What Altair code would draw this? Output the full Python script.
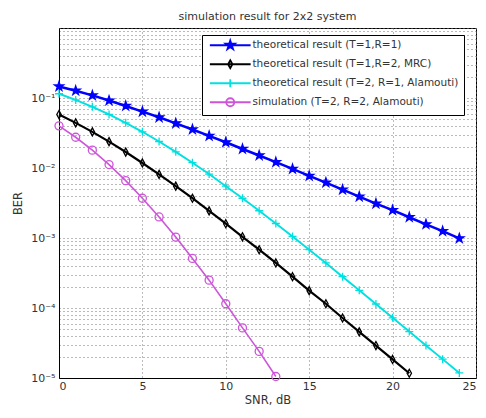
import altair as alt
import pandas as pd

# ---------------- data ----------------
names = [
    "theoretical result (T=1,R=1)",
    "theoretical result (T=1,R=2, MRC)",
    "theoretical result (T=2, R=1, Alamouti)",
    "simulation (T=2, R=2, Alamouti)",
]
snr_blue = list(range(0, 25))
ber_blue = [0.146, 0.127, 0.109, 0.092, 0.077, 0.064, 0.053, 0.0435, 0.0355, 0.0288,
            0.0233, 0.0187, 0.0151, 0.0121, 0.0097, 0.0077, 0.0062, 0.0049, 0.0039,
            0.0031, 0.0025, 0.00198, 0.00157, 0.00125, 0.00099]
snr_black = list(range(0, 22))
ber_black = [0.058, 0.0441, 0.0328, 0.0238, 0.0169, 0.0118, 0.0081, 0.0055, 0.0037,
             0.00244, 0.0016, 0.00104, 0.00068, 0.00044, 0.00028, 0.000177, 0.000115,
             0.000072, 0.0000456, 0.0000291, 0.0000184, 0.0000117]
snr_cyan = list(range(0, 25))
ber_cyan = [0.115, 0.0939, 0.0748, 0.0582, 0.0442, 0.0329, 0.0239, 0.017, 0.0119,
            0.0082, 0.0055, 0.0037, 0.00245, 0.00161, 0.00105, 0.00068, 0.00044,
            0.00028, 0.000179, 0.000114, 0.0000725, 0.0000461, 0.0000292, 0.0000186,
            0.0000118]
snr_sim = list(range(0, 14))
ber_sim = [0.040, 0.0275, 0.018, 0.0112, 0.0066, 0.0037, 0.002, 0.00103, 0.00051,
           0.00025, 0.000115, 0.000052, 0.000024, 0.0000105]

x_ticks = [0, 5, 10, 15, 20, 25]
decades = [1e-5, 1e-4, 1e-3, 1e-2, 1e-1, 1]
y_ticks = decades + [m * d for d in decades[:-1] for m in range(2, 10)]

colors = ["#0000ff", "#000000", "#00e0e0", "#cc55d8"]
fills = ["#0000ff", "transparent", "transparent", "transparent"]
widths = [2.5, 1.6, 1.6, 1.1]

# ---------------- marker paths ----------------
star = ("M0,-1.2L0.27,-0.371L1.141,-0.371L0.436,0.142L0.706,0.971L0,0.458"
        "L-0.706,0.971L-0.436,0.142L-1.141,-0.371L-0.27,-0.371Z")
diamond = "M0,-1L0.55,0L0,1L-0.55,0Z"
plus = "M-1,0L1,0M0,-1L0,1"
circle = "M-1,0A1,1 0 1,0 1,0A1,1 0 1,0 -1,0Z"
markers = [star, diamond, plus, circle]
seg = "M-5.1,0L5.1,0"
legend_paths = [seg + m for m in markers]

frames = []
for n, xs, ys in zip(names, [snr_blue, snr_black, snr_cyan, snr_sim],
                     [ber_blue, ber_black, ber_cyan, ber_sim]):
    frames.append(pd.DataFrame({"series": n, "snr": xs, "ber": ys}))
df = pd.concat(frames, ignore_index=True)
dummy = pd.DataFrame({"series": names, "snr": [-10] * 4, "ber": [0.1] * 4})

font = "DejaVu Sans"
txt = "#333333"

label_expr = ("datum.value == 0.1 ? '10⁻¹' : datum.value == 0.01 ? '10⁻²' : "
              "datum.value == 0.001 ? '10⁻³' : datum.value == 0.0001 ? '10⁻⁴' : "
              "datum.value == 0.00001 ? '10⁻⁵' : ''")

x_enc = alt.X("snr:Q", scale=alt.Scale(domain=[0, 25], nice=False, zero=False),
              axis=alt.Axis(values=x_ticks, format="d", title="SNR, dB",
                            labelPadding=2, titlePadding=3))
y_enc = alt.Y("ber:Q", scale=alt.Scale(type="log", domain=[1e-5, 1], nice=False),
              axis=alt.Axis(values=y_ticks, labelExpr=label_expr, title="BER",
                            labelPadding=4, titlePadding=7))

stroke_enc = alt.Stroke("series:N", scale=alt.Scale(domain=names, range=colors), legend=None)
fill_enc = alt.Fill("series:N", scale=alt.Scale(domain=names, range=fills), legend=None)

lines = alt.Chart(df).mark_line().encode(
    x=x_enc, y=y_enc, stroke=stroke_enc,
    strokeWidth=alt.StrokeWidth("series:N", scale=alt.Scale(domain=names, range=widths), legend=None),
    detail="series:N",
)

points = alt.Chart(df).mark_point(size=64, strokeWidth=1.3, opacity=1).encode(
    x=x_enc, y=y_enc, stroke=stroke_enc, fill=fill_enc,
    shape=alt.Shape("series:N", scale=alt.Scale(domain=names, range=markers), legend=None),
)

legend = alt.Legend(
    title=None, orient="none", legendX=143, legendY=7,
    fillColor="white", strokeColor="black", padding=5, rowPadding=3,
    labelFont=font, labelFontSize=10.5, labelColor=txt, labelLimit=400,
    symbolOffset=18, labelOffset=17, symbolStrokeWidth=1.8, symbolSize=64,
)
legend_layer = alt.Chart(dummy).mark_point(size=64, strokeWidth=1.8, opacity=1, clip=True).encode(
    x=x_enc, y=y_enc,
    stroke=alt.Stroke("series:N", scale=alt.Scale(domain=names, range=colors), legend=legend),
    fill=alt.Fill("series:N", scale=alt.Scale(domain=names, range=fills), legend=legend),
    shape=alt.Shape("series:N", scale=alt.Scale(domain=names, range=legend_paths), legend=legend),
)

chart = alt.layer(lines, points, legend_layer).resolve_scale(
    shape="independent"
).resolve_legend(
    shape="independent", stroke="independent", fill="independent"
).properties(
    width=417, height=350,
    title=alt.TitleParams("simulation result for 2x2 system", font=font, fontSize=11,
                          fontWeight="normal", color=txt, offset=6, anchor="middle"),
    autosize=alt.AutoSizeParams(type="none"),
    padding={"left": 51, "top": 20, "right": 2, "bottom": 32},
).configure_view(
    stroke="black", strokeWidth=1
).configure_axis(
    labelFont=font, titleFont=font, labelFontSize=11, titleFontSize=11.5,
    labelColor=txt, titleColor=txt, titleFontWeight="normal",
    domainColor="black", grid=True, gridColor="#777777", gridDash=[1, 3],
    gridOpacity=1, ticks=False,
)

chart.save("out.html", embed_options={"renderer": "svg", "actions": False})
